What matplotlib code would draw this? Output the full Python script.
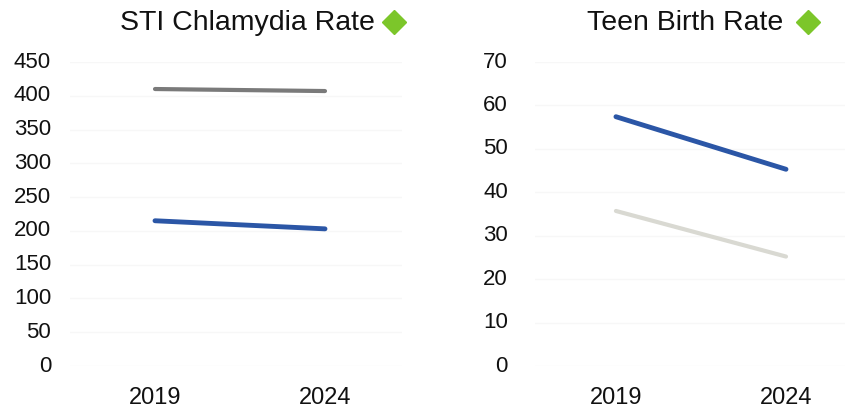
import matplotlib
matplotlib.use("Agg")
import matplotlib.pyplot as plt
from matplotlib.lines import Line2D

plt.rcParams['font.family'] = ['Liberation Sans', 'DejaVu Sans']

years = ["2019", "2024"]

sti_title = "STI Chlamydia Rate"
sti_county = [215, 203]
sti_state = [410, 407]
sti_ticks = [0, 50, 100, 150, 200, 250, 300, 350, 400, 450]

teen_title = "Teen Birth Rate"
teen_county = [57.4, 45.3]
teen_state = [35.7, 25.2]
teen_ticks = [0, 10, 20, 30, 40, 50, 60, 70]

W, H = 849, 412
fig = plt.figure(figsize=(W / 100, H / 100), dpi=100)

blue = "#2b56a6"


def make_axes(x0, x1, xlim, ticks, county, state, state_color, title, title_x, diamond_x, label_right):
    ax = fig.add_axes([x0 / W, (H - 366) / H, (x1 - x0) / W, 304 / H])
    ax.set_xlim(*xlim)
    ax.set_ylim(ticks[0], ticks[-1])
    for t in ticks:
        ax.axhline(t, color="#f7f7f7", lw=1.0, zorder=0)
    xs = list(range(len(years)))
    ax.plot(xs, state, color=state_color, lw=3.0, solid_capstyle="round", clip_on=False, zorder=3)
    ax.plot(xs, county, color=blue, lw=3.5, solid_capstyle="round", clip_on=False, zorder=4)
    for s in ax.spines.values():
        s.set_visible(False)
    ax.set_xticks(xs)
    ax.set_xticklabels(years, fontsize=17, color="#111111")
    ax.tick_params(axis="x", length=0, pad=15)
    ax.set_yticks([])
    for t in ticks:
        fig.text(label_right / W, (H - (366 - (t - ticks[0]) / (ticks[-1] - ticks[0]) * 304)) / H,
                 str(t), ha="right", va="center", fontsize=16, color="#111111")
    fig.text(title_x / W, (H - 23) / H, title, ha="center", va="center", fontsize=20.5, color="#111111")
    fig.lines.append(Line2D([diamond_x / W], [(H - 22) / H], transform=fig.transFigure,
                            marker="D", markersize=12, color="#7cc62a", linestyle="none"))
    return ax


make_axes(70, 402, (-0.5, 1.453), sti_ticks, sti_county, sti_state, "#7a7a7a",
          sti_title, 247, 394, 51)
make_axes(535, 845, (-0.476, 1.347), teen_ticks, teen_county, teen_state, "#d9d9d2",
          teen_title, 685, 808, 508)

fig.savefig("out.png", dpi=100, facecolor="white")
